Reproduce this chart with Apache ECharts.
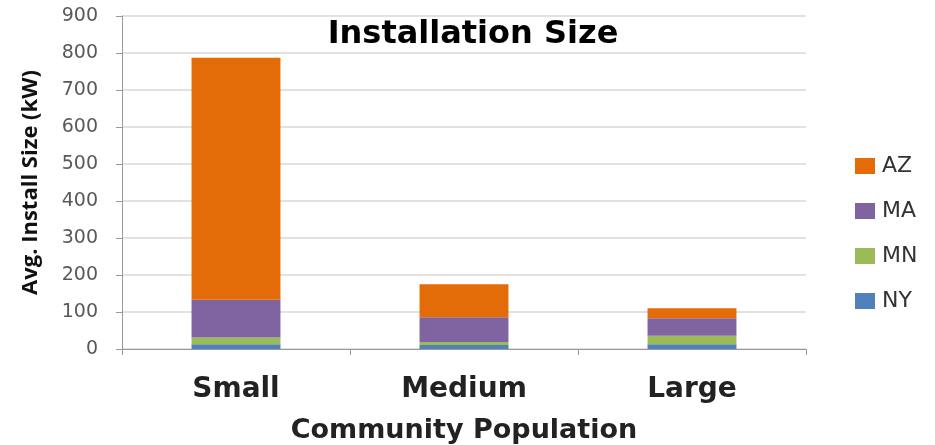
<!DOCTYPE html>
<html><head><meta charset="utf-8">
<script src="https://cdn.jsdelivr.net/npm/echarts@6/dist/echarts.min.js"></script>
<style>html,body{margin:0;padding:0;background:#fff}#c{width:935px;height:445px}</style>
</head><body><div id="c"></div>
<script>
const categories = ['Small', 'Medium', 'Large'];
const seriesNames = ['NY', 'MN', 'MA', 'AZ'];
const NY = [13, 11, 13];
const MN = [18, 8, 23];
const MA = [102, 67, 47];
const AZ = [654, 89, 27];
const yTicks = [0, 100, 200, 300, 400, 500, 600, 700, 800, 900];
const colors = { NY: '#4F81BD', MN: '#9BBB59', MA: '#8064A2', AZ: '#E36C09' };
const values = { NY, MN, MA, AZ };

const chart = echarts.init(document.getElementById('c'));
chart.setOption({
  animation: false,
  title: {
    text: 'Installation Size', left: 468, top: 14, textAlign: 'center',
    textStyle: { fontFamily: 'DejaVu Sans', fontWeight: 'bold', fontSize: 32, color: '#000' }
  },
  legend: {
    data: ['AZ', 'MA', 'MN', 'NY'], orient: 'vertical', left: 850, top: 150,
    itemWidth: 20, itemHeight: 16, itemGap: 23, icon: 'rect',
    textStyle: { fontFamily: 'DejaVu Sans', fontSize: 22, color: '#333', padding: [0, 0, 0, 2] }
  },
  grid: { left: 122, right: 129, top: 16, bottom: 96, outerBoundsMode: 'none', containLabel: false },
  xAxis: {
    type: 'category', data: categories,
    axisLine: { lineStyle: { color: '#999' } },
    axisTick: { show: true, length: 6, lineStyle: { color: '#999' } },
    axisLabel: { margin: 27, fontFamily: 'DejaVu Sans', fontWeight: 'bold', fontSize: 28, color: '#222' },
    name: 'Community Population', nameLocation: 'middle', nameGap: 68,
    nameTextStyle: { fontFamily: 'DejaVu Sans', fontWeight: 'bold', fontSize: 27, color: '#222' }
  },
  yAxis: {
    type: 'value', min: 0, max: yTicks[yTicks.length - 1], interval: 100,
    axisLine: { show: true, lineStyle: { color: '#999' } },
    axisTick: { show: true, length: 6, lineStyle: { color: '#999' } },
    splitLine: { lineStyle: { color: '#d9d9d9', width: 1.5 } },
    axisLabel: { margin: 24, fontFamily: 'DejaVu Sans', fontSize: 19, color: '#595959' },
    name: 'Avg. Install Size (kW)', nameLocation: 'middle', nameGap: 80,
    nameTextStyle: { fontFamily: 'Open Sans', fontWeight: 'bold', fontSize: 22, color: '#111' }
  },
  series: seriesNames.map(n => ({
    name: n, type: 'bar', stack: 'total', data: values[n],
    barWidth: '39%', itemStyle: { color: colors[n] }
  }))
});
</script></body></html>
